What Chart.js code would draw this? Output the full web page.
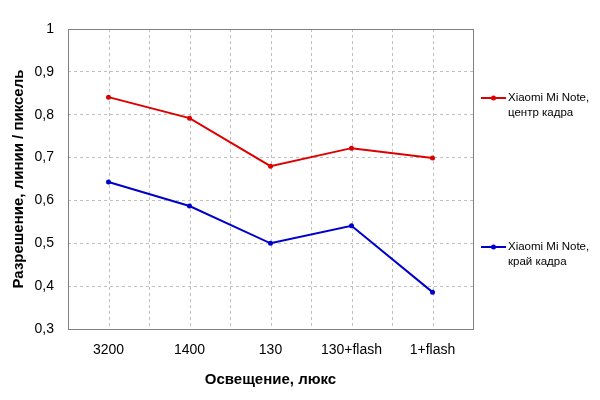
<!DOCTYPE html>
<html><head><meta charset="utf-8">
<script src="https://cdn.jsdelivr.net/npm/chart.js@4"></script>
<style>html,body{margin:0;padding:0;background:#fff;}#wrap{width:600px;height:400px;}</style>
</head><body><div id="wrap"><canvas id="c" width="600" height="400"></canvas></div>
<script>
const categories = ['3200', '1400', '130', '130+flash', '1+flash'];
const centerValues = [0.841, 0.792, 0.680, 0.722, 0.699];
const edgeValues = [0.643, 0.587, 0.500, 0.541, 0.386];
const seriesNames = [['Xiaomi Mi Note,', 'центр кадра'], ['Xiaomi Mi Note,', 'край кадра']];
const yTickLabels = {0.3:'0,3',0.4:'0,4',0.5:'0,5',0.6:'0,6',0.7:'0,7',0.8:'0,8',0.9:'0,9',1:'1'};
const FONT = '"Liberation Sans", Arial, sans-serif';

const framePlugin = {
  id: 'frame',
  beforeDatasetsDraw(chart) {
    const {ctx, chartArea: a, scales: {x}} = chart;
    ctx.save();
    ctx.strokeStyle = '#c0c0c0';
    ctx.lineWidth = 1;
    ctx.setLineDash([3, 3]);
    for (let i = 0; i < categories.length; i++) {
      const px = Math.round(x.getPixelForValue(i)) + 0.5;
      ctx.beginPath(); ctx.moveTo(px, a.top); ctx.lineTo(px, a.bottom); ctx.stroke();
    }
    ctx.setLineDash([]);
    ctx.strokeStyle = '#808080';
    ctx.strokeRect(Math.round(a.left) + 0.5, Math.round(a.top) + 0.5, Math.round(a.right - a.left), Math.round(a.bottom - a.top));
    ctx.restore();
  },
  afterDraw(chart) {
    const {ctx} = chart;
    const entries = [
      {color: chart.data.datasets[0].borderColor, y: 98, lines: seriesNames[0]},
      {color: chart.data.datasets[1].borderColor, y: 247, lines: seriesNames[1]}
    ];
    ctx.save();
    entries.forEach(e => {
      ctx.strokeStyle = e.color; ctx.fillStyle = e.color; ctx.lineWidth = 2;
      ctx.beginPath(); ctx.moveTo(481, e.y); ctx.lineTo(506, e.y); ctx.stroke();
      ctx.beginPath(); ctx.arc(493.5, e.y, 2.5, 0, Math.PI * 2); ctx.fill();
      ctx.fillStyle = '#000';
      ctx.font = '11.5px ' + FONT;
      ctx.textBaseline = 'middle';
      ctx.textAlign = 'left';
      e.lines.forEach((t, i) => ctx.fillText(t, 508, e.y + i * 14.5));
    });
    ctx.restore();
  }
};

new Chart(document.getElementById('c'), {
  type: 'line',
  data: {
    labels: categories,
    datasets: [
      {label: seriesNames[0].join(' '), data: centerValues, borderColor: '#dd0000', backgroundColor: '#dd0000', borderWidth: 2, pointRadius: 2.5, pointBorderWidth: 0, tension: 0},
      {label: seriesNames[1].join(' '), data: edgeValues, borderColor: '#0000cc', backgroundColor: '#0000cc', borderWidth: 2, pointRadius: 2.5, pointBorderWidth: 0, tension: 0}
    ]
  },
  options: {
    responsive: false,
    animation: false,
    layout: {padding: {left: 0, right: 127, top: 29, bottom: 0}},
    plugins: {legend: {display: false}, tooltip: {enabled: false}},
    scales: {
      x: {
        offset: true,
        grid: {offset: true, color: '#c0c0c0', drawTicks: false},
        border: {display: false, dash: [3, 3]},
        ticks: {color: '#000', font: {family: FONT, size: 14}, padding: 13, autoSkip: false, maxRotation: 0},
        title: {display: true, text: 'Освещение, люкс', color: '#000', font: {family: FONT, size: 15, weight: 'bold'}, padding: {top: 0, bottom: 11}},
        afterFit(s) { s.height = 71; }
      },
      y: {
        min: 0.3, max: 1,
        grid: {color: '#c0c0c0', drawTicks: false},
        border: {display: false, dash: [3, 3]},
        ticks: {stepSize: 0.1, color: '#000', font: {family: FONT, size: 14}, padding: 14,
          callback: v => yTickLabels[Math.round(v * 10) / 10]},
        title: {display: true, text: 'Разрешение, линии / пиксель', color: '#000', font: {family: FONT, size: 15, weight: 'bold'}, padding: {top: 10, bottom: 0}},
        afterFit(s) { s.width = 68; }
      }
    }
  },
  plugins: [framePlugin]
});
</script>
</body></html>
